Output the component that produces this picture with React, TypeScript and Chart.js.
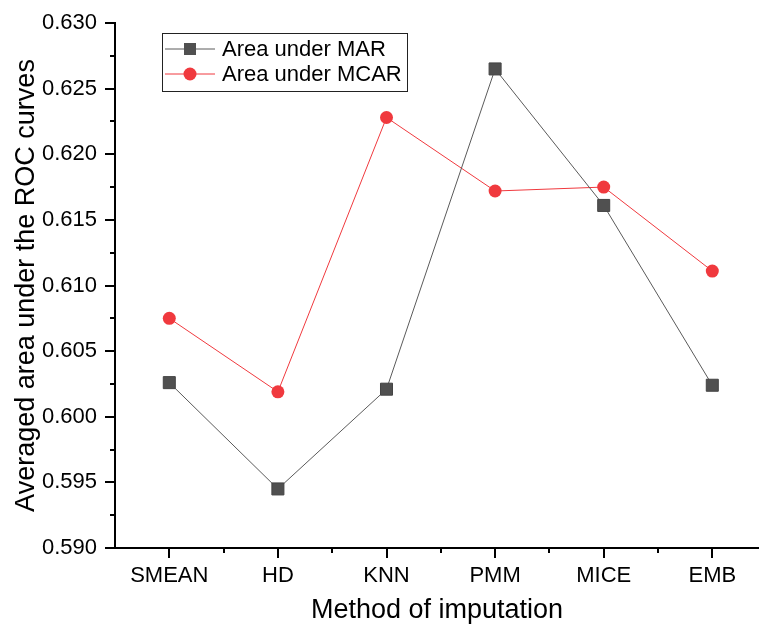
import React, { useEffect, useRef } from "react";
import { Chart, registerables } from "chart.js";

Chart.register(...registerables);

const categories = ["SMEAN", "HD", "KNN", "PMM", "MICE", "EMB"];
const marValues = [0.6026, 0.5945, 0.6021, 0.6265, 0.6161, 0.6024];
const mcarValues = [0.6075, 0.6019, 0.6228, 0.6172, 0.6175, 0.6111];
const seriesNames = ["Area under MAR", "Area under MCAR"];
const yMin = 0.59;
const yMax = 0.63;
const yStep = 0.005;

const FONT = "'Liberation Sans', Arial, sans-serif";
const MAR_LINE = "#5a5a5a";
const MAR_FILL = "#505050";
const MCAR_COLOR = "#f0393e";

const tickPlugin = {
  id: "tickMarks",
  afterDraw(chart: any) {
    const ctx = chart.ctx;
    const xs = chart.scales.x;
    const ys = chart.scales.y;
    ctx.save();
    ctx.strokeStyle = "#000";
    ctx.lineWidth = 2;
    const yLeft = chart.chartArea.left;
    for (let i = 0; i <= Math.round((yMax - yMin) / (yStep / 2)); i++) {
      const v = yMin + (i * yStep) / 2;
      const py = Math.round(ys.getPixelForValue(v));
      const len = i % 2 === 0 ? 10 : 5;
      ctx.beginPath();
      ctx.moveTo(yLeft, py);
      ctx.lineTo(yLeft - len, py);
      ctx.stroke();
    }
    const xBottom = chart.chartArea.bottom;
    for (let i = 0; i < categories.length; i++) {
      const px = Math.round(xs.getPixelForValue(i));
      ctx.beginPath();
      ctx.moveTo(px, xBottom);
      ctx.lineTo(px, xBottom + 10);
      ctx.stroke();
      const pm = Math.round(xs.getPixelForValue(i + 0.5));
      ctx.beginPath();
      ctx.moveTo(pm, xBottom);
      ctx.lineTo(pm, xBottom + 5);
      ctx.stroke();
    }
    ctx.restore();
  },
};

const legendPlugin = {
  id: "insideLegend",
  afterDraw(chart: any) {
    const ctx = chart.ctx;
    ctx.save();
    ctx.strokeStyle = "#222";
    ctx.lineWidth = 1;
    ctx.strokeRect(162.5, 33.5, 245, 58);
    const rows = [49, 74];
    rows.forEach((y, i) => {
      const color = i === 0 ? MAR_LINE : MCAR_COLOR;
      ctx.strokeStyle = color;
      ctx.lineWidth = 1;
      ctx.beginPath();
      ctx.moveTo(165, y);
      ctx.lineTo(215, y);
      ctx.stroke();
      if (i === 0) {
        ctx.fillStyle = MAR_FILL;
        ctx.fillRect(184, y - 6, 12, 12);
      } else {
        ctx.fillStyle = MCAR_COLOR;
        ctx.beginPath();
        ctx.arc(190, y, 6.5, 0, Math.PI * 2);
        ctx.fill();
      }
      ctx.fillStyle = "#000";
      ctx.font = `22px ${FONT}`;
      ctx.textBaseline = "middle";
      ctx.textAlign = "left";
      ctx.fillText(seriesNames[i], 222, y + 1);
    });
    ctx.restore();
  },
};

export default function App() {
  const ref = useRef<HTMLCanvasElement | null>(null);
  useEffect(() => {
    if (!ref.current) return;
    const chart = new Chart(ref.current, {
      type: "line",
      data: {
        datasets: [
          {
            label: seriesNames[0],
            data: marValues.map((v, i) => ({ x: i, y: v })),
            borderColor: MAR_LINE,
            borderWidth: 1,
            backgroundColor: MAR_FILL,
            pointBackgroundColor: MAR_FILL,
            pointBorderColor: "#444",
            pointBorderWidth: 1,
            pointStyle: "rect",
            pointRadius: 8.5,
            tension: 0,
          },
          {
            label: seriesNames[1],
            data: mcarValues.map((v, i) => ({ x: i, y: v })),
            borderColor: MCAR_COLOR,
            borderWidth: 1,
            backgroundColor: MCAR_COLOR,
            pointBackgroundColor: MCAR_COLOR,
            pointBorderColor: MCAR_COLOR,
            pointBorderWidth: 0,
            pointStyle: "circle",
            pointRadius: 6.5,
            tension: 0,
          },
        ],
      },
      options: {
        responsive: false,
        animation: false,
        layout: { autoPadding: false, padding: { top: 23, right: 0, left: 0, bottom: 0 } },
        plugins: { legend: { display: false }, tooltip: { enabled: false } },
        scales: {
          x: {
            type: "linear",
            min: -0.5,
            max: 5.43,
            grid: { display: false, drawTicks: false },
            border: { display: true, color: "#000", width: 2 },
            afterBuildTicks: (scale: any) => {
              scale.ticks = categories.map((_, i) => ({ value: i }));
            },
            afterFit: (scale: any) => {
              scale.height = 79;
              scale.paddingLeft = 0;
              scale.paddingRight = 0;
            },
            ticks: {
              autoSkip: false,
              maxRotation: 0,
              padding: 15,
              color: "#000",
              font: { family: FONT, size: 22 },
              callback: (v: any) => categories[Math.round(Number(v))] ?? "",
            },
            title: {
              display: true,
              text: "Method of imputation",
              color: "#000",
              font: { family: FONT, size: 27 },
              padding: { top: 0, bottom: 0 },
            },
          },
          y: {
            min: yMin,
            max: yMax,
            grid: { display: false, drawTicks: false },
            border: { display: true, color: "#000", width: 2 },
            afterFit: (scale: any) => {
              scale.width = 115;
              scale.paddingTop = 0;
              scale.paddingBottom = 0;
            },
            ticks: {
              stepSize: yStep,
              padding: 18,
              color: "#000",
              font: { family: FONT, size: 22 },
              callback: (v: any) => Number(v).toFixed(3),
            },
            title: {
              display: true,
              text: "Averaged area under the ROC curves",
              color: "#000",
              font: { family: FONT, size: 27 },
              padding: { top: 10, bottom: 0 },
            },
          },
        },
      },
      plugins: [tickPlugin, legendPlugin],
    } as any);
    return () => chart.destroy();
  }, []);
  return (
    <div style={{ position: "fixed", left: 0, top: 0, width: 759, height: 627, background: "#fff" }}>
      <canvas ref={ref} width={759} height={627} style={{ display: "block" }} />
    </div>
  );
}
